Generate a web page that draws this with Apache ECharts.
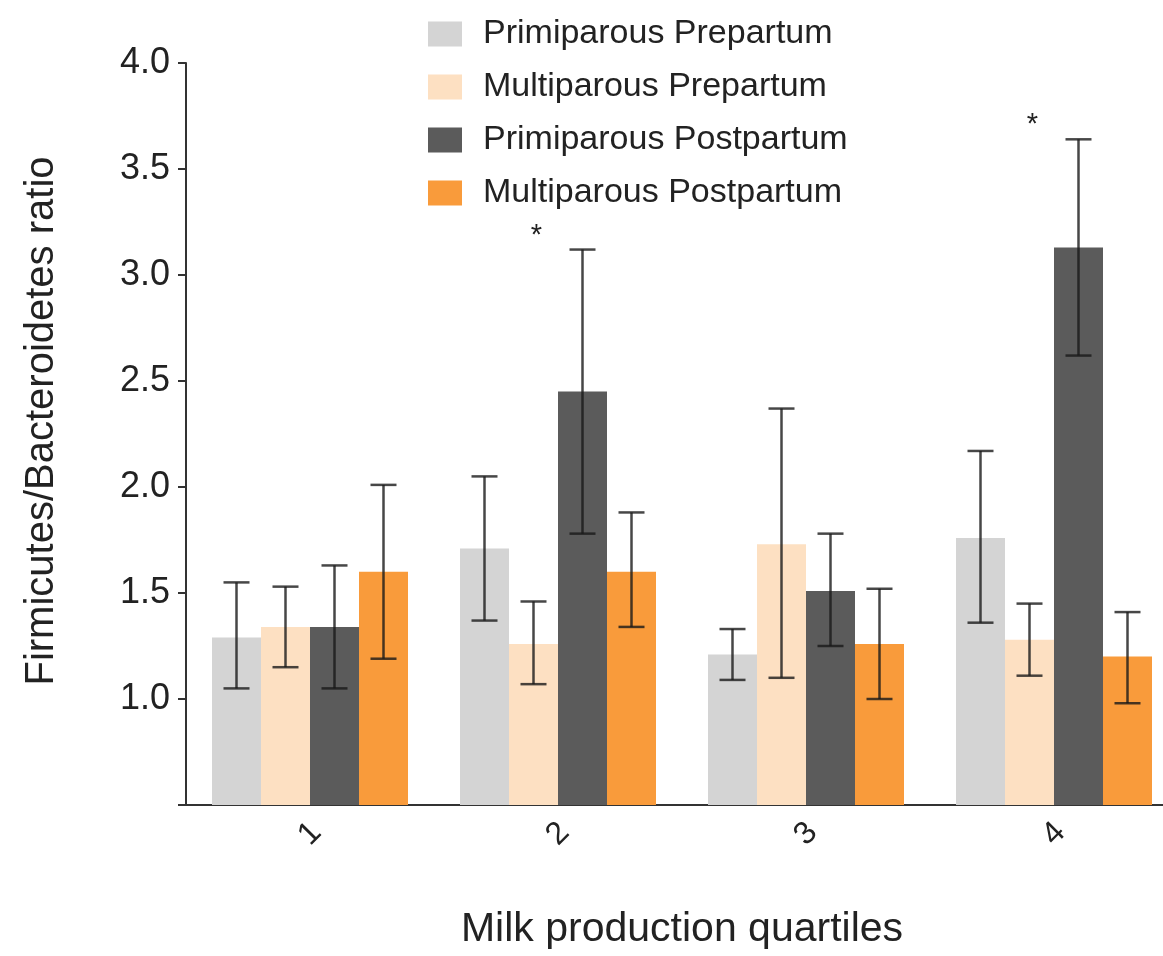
<!DOCTYPE html>
<html>
<head>
<meta charset="utf-8">
<title>Firmicutes/Bacteroidetes ratio by milk production quartile</title>
<script src="https://cdn.jsdelivr.net/npm/echarts@6/dist/echarts.min.js"></script>
<style>
  html, body { margin: 0; padding: 0; background: #ffffff; }
  #chart { width: 1163px; height: 956px; }
</style>
</head>
<body>
<div id="chart"></div>
<script>
// Milk production quartiles on the x axis
const quartiles = ['1', '2', '3', '4'];

// Group names, in drawing order within each quartile
const groupNames = [
  'Primiparous Prepartum',
  'Multiparous Prepartum',
  'Primiparous Postpartum',
  'Multiparous Postpartum'
];

// Mean F/B ratio per quartile
const primiPre   = [1.29, 1.71, 1.21, 1.76];
const multiPre   = [1.34, 1.26, 1.73, 1.28];
const primiPost  = [1.34, 2.45, 1.51, 3.13];
const multiPost  = [1.60, 1.60, 1.26, 1.20];

// Error bar bounds per quartile
const primiPreLow   = [1.05, 1.37, 1.09, 1.36];
const primiPreHigh  = [1.55, 2.05, 1.33, 2.17];
const multiPreLow   = [1.15, 1.07, 1.10, 1.11];
const multiPreHigh  = [1.53, 1.46, 2.37, 1.45];
const primiPostLow  = [1.05, 1.78, 1.25, 2.62];
const primiPostHigh = [1.63, 3.12, 1.78, 3.64];
const multiPostLow  = [1.19, 1.34, 1.00, 0.98];
const multiPostHigh = [2.01, 1.88, 1.52, 1.41];

// Quartiles where primiparous postpartum differs significantly
const significant = ['2', '4'];

// Y axis tick labels (0.5 sits at the origin and is left blank)
const yTickLabels = ['', '1.0', '1.5', '2.0', '2.5', '3.0', '3.5', '4.0'];

const means = [primiPre, multiPre, primiPost, multiPost];
const lows  = [primiPreLow, multiPreLow, primiPostLow, multiPostLow];
const highs = [primiPreHigh, multiPreHigh, primiPostHigh, multiPostHigh];
const colors = ['#d4d4d4', '#fde0c2', '#5b5b5b', '#f99b3b'];

const BAR_W = 49;
const CAP_W = 26;
const FONT = '"Liberation Sans", Arial, Helvetica, sans-serif';
const TEXT = '#222222';
const AXIS = '#333333';

const chart = echarts.init(document.getElementById('chart'), null, { renderer: 'canvas' });

// Bar series
const barSeries = groupNames.map((name, s) => ({
  name: name,
  type: 'bar',
  data: means[s],
  barWidth: BAR_W,
  barGap: '0%',
  itemStyle: { color: colors[s] },
  z: 2
}));

// Error bars: [quartile index, group index, low, high]
const errData = [];
for (let s = 0; s < groupNames.length; s++) {
  for (let q = 0; q < quartiles.length; q++) {
    errData.push([q, s, lows[s][q], highs[s][q]]);
  }
}

const errorSeries = {
  type: 'custom',
  name: 'error',
  z: 3,
  silent: true,
  data: errData,
  encode: { x: 0, y: [2, 3] },
  renderItem: function (params, api) {
    const q = api.value(0);
    const s = api.value(1);
    const lo = api.coord([q, api.value(2)]);
    const hi = api.coord([q, api.value(3)]);
    const x = lo[0] + (s - 1.5) * BAR_W;
    const style = { stroke: 'rgba(25,25,25,0.8)', lineWidth: 2.5, fill: null };
    return {
      type: 'group',
      children: [
        { type: 'line', shape: { x1: x, y1: hi[1], x2: x, y2: lo[1] }, style: style },
        { type: 'line', shape: { x1: x - CAP_W / 2, y1: hi[1], x2: x + CAP_W / 2, y2: hi[1] }, style: style },
        { type: 'line', shape: { x1: x - CAP_W / 2, y1: lo[1], x2: x + CAP_W / 2, y2: lo[1] }, style: style }
      ]
    };
  }
};

// Significance asterisks above the significant quartiles
const starData = significant.map(c => {
  const q = quartiles.indexOf(c);
  return [q, primiPostHigh[q]];
});

const starSeries = {
  type: 'custom',
  name: 'significance',
  z: 4,
  silent: true,
  data: starData,
  encode: { x: 0, y: 1 },
  renderItem: function (params, api) {
    const p = api.coord([api.value(0), api.value(1)]);
    return {
      type: 'text',
      x: p[0] - 0.5 * BAR_W + 3,
      y: p[1] - 14,
      style: {
        text: '*',
        font: '29px ' + FONT,
        fill: TEXT,
        align: 'center',
        verticalAlign: 'middle'
      }
    };
  }
};

const option = {
  animation: false,
  backgroundColor: '#ffffff',
  grid: {
    left: 186,
    top: 63,
    width: 992,
    height: 742,
    containLabel: false,
    outerBoundsMode: 'none'
  },
  legend: {
    orient: 'vertical',
    left: 428,
    top: 17,
    padding: 0,
    data: groupNames,
    icon: 'rect',
    itemWidth: 34,
    itemHeight: 25,
    itemGap: 19,
    selectedMode: false,
    textStyle: {
      fontFamily: FONT,
      fontSize: 34,
      lineHeight: 33,
      color: TEXT,
      padding: [0, 0, 0, 16]
    }
  },
  xAxis: {
    type: 'category',
    data: quartiles,
    name: 'Milk production quartiles',
    nameLocation: 'middle',
    nameGap: 104,
    nameTextStyle: { fontFamily: FONT, fontSize: 41, color: TEXT },
    axisLine: { lineStyle: { color: AXIS, width: 2 } },
    axisTick: { alignWithLabel: true, length: 7, lineStyle: { color: AXIS, width: 2 } },
    axisLabel: {
      rotate: 45,
      margin: 29,
      align: 'center',
      verticalAlign: 'middle',
      fontFamily: FONT,
      fontSize: 32,
      color: TEXT
    },
    splitLine: { show: false }
  },
  yAxis: {
    type: 'value',
    min: 0.5,
    max: 4,
    interval: 0.5,
    name: 'Firmicutes/Bacteroidetes ratio',
    nameLocation: 'middle',
    nameGap: 124,
    nameTextStyle: {
      fontFamily: FONT,
      fontSize: 40,
      color: TEXT,
      padding: [0, 0, 0, 26]
    },
    axisLine: { show: true, lineStyle: { color: AXIS, width: 2 } },
    axisTick: { show: true, length: 8, lineStyle: { color: AXIS, width: 2 } },
    axisLabel: {
      margin: 16,
      fontFamily: FONT,
      fontSize: 36,
      color: TEXT,
      formatter: function (v) {
        const i = Math.round((v - 0.5) / 0.5);
        return yTickLabels[i] !== undefined ? yTickLabels[i] : '';
      }
    },
    splitLine: { show: false }
  },
  series: barSeries.concat([errorSeries, starSeries])
};

chart.setOption(option);
</script>
</body>
</html>
